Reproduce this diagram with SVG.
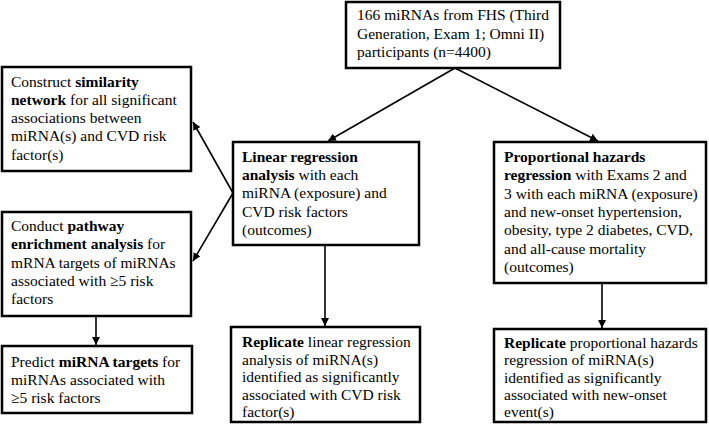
<svg xmlns="http://www.w3.org/2000/svg" width="709" height="433" viewBox="0 0 709 433">
<defs>
<marker id="ah" viewBox="0 0 10 10" refX="10" refY="5" markerWidth="8" markerHeight="8" markerUnits="userSpaceOnUse" orient="auto">
<path d="M0,0 L10,5 L0,10 z" fill="#000"/>
</marker>
<style>
.box{fill:#fff;stroke:#000;stroke-width:2.5}
.t{font-family:'Liberation Serif','DejaVu Serif','Times New Roman',serif;font-size:15.5px;fill:#000}
.b{font-weight:bold}
.c{stroke:#000;stroke-width:1.6;fill:none;marker-end:url(#ah)}
</style>
</defs>
<rect width="709" height="433" fill="#fff"/>
<g id="connectors">
<line class="c" x1="455" y1="68" x2="328" y2="141"/>
<line class="c" x1="455" y1="68" x2="598" y2="141"/>
<line class="c" x1="233" y1="193" x2="193" y2="122"/>
<line class="c" x1="233" y1="193" x2="193" y2="261"/>
<line class="c" x1="325" y1="245" x2="325" y2="326"/>
<line class="c" x1="602" y1="283" x2="602" y2="328"/>
<line class="c" x1="96" y1="316" x2="96" y2="345"/>
</g>
<g id="top">
<rect class="box" x="346" y="2" width="214" height="66"/>
<text class="t" x="357" y="20">166 miRNAs from FHS (Third</text>
<text class="t" x="357" y="38.5">Generation, Exam 1; Omni II)</text>
<text class="t" x="357" y="57">participants (n=4400)</text>
</g>
<g id="similarity">
<rect class="box" x="2" y="67" width="189" height="104"/>
<text class="t" x="11" y="86.5">Construct <tspan class="b">similarity</tspan></text>
<text class="t" x="11" y="104.8"><tspan class="b">network</tspan> for all significant</text>
<text class="t" x="11" y="123.1">associations between</text>
<text class="t" x="11" y="141.4">miRNA(s) and CVD risk</text>
<text class="t" x="11" y="159.7">factor(s)</text>
</g>
<g id="pathway">
<rect class="box" x="2" y="212" width="189" height="104"/>
<text class="t" x="11" y="231">Conduct <tspan class="b">pathway</tspan></text>
<text class="t" x="11" y="249.3"><tspan class="b">enrichment analysis</tspan> for</text>
<text class="t" x="11" y="267.6">mRNA targets of miRNAs</text>
<text class="t" x="11" y="285.9">associated with ≥5 risk</text>
<text class="t" x="11" y="304.2">factors</text>
</g>
<g id="predict">
<rect class="box" x="2" y="346" width="190" height="67"/>
<text class="t" x="11" y="366.5">Predict <tspan class="b">miRNA targets</tspan> for</text>
<text class="t" x="11" y="384.8">miRNAs associated with</text>
<text class="t" x="11" y="403.1">≥5 risk factors</text>
</g>
<g id="linear">
<rect class="box" x="233" y="142" width="186" height="103"/>
<text class="t" x="242" y="161.7"><tspan class="b">Linear regression</tspan></text>
<text class="t" x="242" y="180"><tspan class="b">analysis</tspan> with each</text>
<text class="t" x="242" y="198.3">miRNA (exposure) and</text>
<text class="t" x="242" y="216.6">CVD risk factors</text>
<text class="t" x="242" y="234.9">(outcomes)</text>
</g>
<g id="replicate-linear">
<rect class="box" x="231" y="327" width="189" height="95"/>
<text class="t" x="242" y="347"><tspan class="b">Replicate</tspan> linear regression</text>
<text class="t" x="242" y="364.5">analysis of miRNA(s)</text>
<text class="t" x="242" y="382">identified as significantly</text>
<text class="t" x="242" y="399.5">associated with CVD risk</text>
<text class="t" x="242" y="417">factor(s)</text>
</g>
<g id="proportional">
<rect class="box" x="494" y="142" width="212" height="141"/>
<text class="t" x="504" y="162"><tspan class="b">Proportional hazards</tspan></text>
<text class="t" x="504" y="180.3"><tspan class="b">regression</tspan> with Exams 2 and</text>
<text class="t" x="504" y="198.6">3 with each miRNA (exposure)</text>
<text class="t" x="504" y="216.9">and new-onset hypertension,</text>
<text class="t" x="504" y="235.2">obesity, type 2 diabetes, CVD,</text>
<text class="t" x="504" y="253.5">and all-cause mortality</text>
<text class="t" x="504" y="271.8">(outcomes)</text>
</g>
<g id="replicate-proportional">
<rect class="box" x="494" y="329" width="212" height="93"/>
<text class="t" x="504" y="348"><tspan class="b">Replicate</tspan> proportional hazards</text>
<text class="t" x="504" y="365.3">regression of miRNA(s)</text>
<text class="t" x="504" y="382.6">identified as significantly</text>
<text class="t" x="504" y="399.9">associated with new-onset</text>
<text class="t" x="504" y="417.2">event(s)</text>
</g>
</svg>
